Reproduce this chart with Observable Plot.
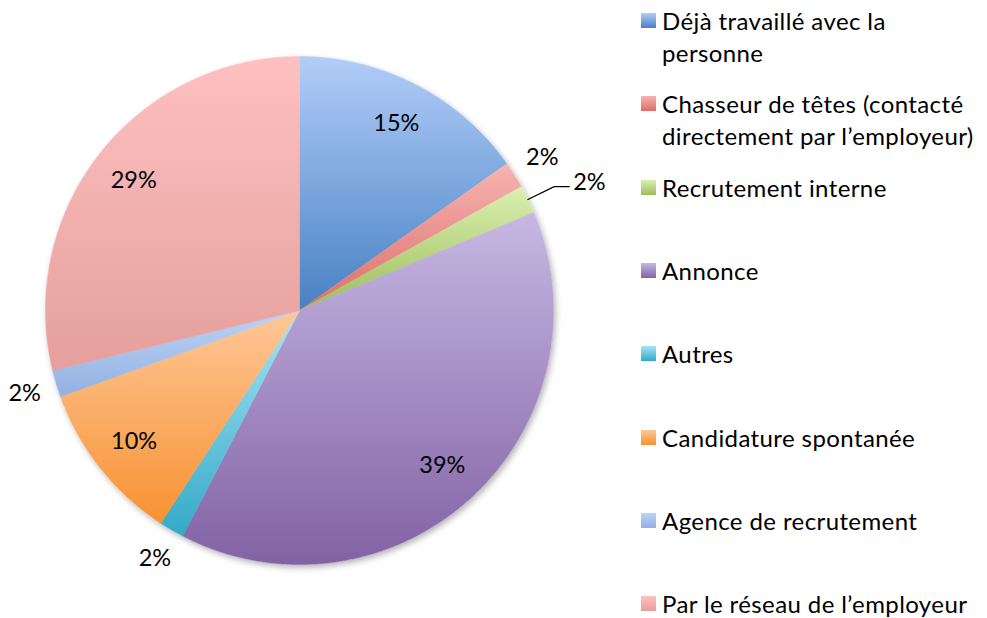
<!DOCTYPE html>
<html>
<head>
<meta charset="utf-8">
<script src="https://cdn.jsdelivr.net/npm/d3@7"></script>
<script src="https://cdn.jsdelivr.net/npm/@observablehq/plot@0.6"></script>
<style>
  html, body { margin: 0; padding: 0; background: #fff; }
  #wrap { position: relative; width: 987px; height: 618px; font-family: Lato, "Open Sans", sans-serif; }
  #chart { position: absolute; left: 0; top: 0; }
  #legend { position: absolute; left: 641px; top: 0; }
  .item { position: absolute; left: 0; width: 346px; }
  .sw { position: absolute; left: 0; top: 8px; width: 15px; height: 15px; }
  .lab { position: absolute; left: 21px; top: 0; width: 322px; font-size: 24px; letter-spacing: 0.4px; line-height: 31.5px; color: #000; }
</style>
</head>
<body>
<div id="wrap"><div id="chart"></div><div id="legend"></div></div>
<script>
// ---- data ----
const categories = [
  "Déjà travaillé avec la personne",
  "Chasseur de têtes (contacté directement par l’employeur)",
  "Recrutement interne",
  "Annonce",
  "Autres",
  "Candidature spontanée",
  "Agence de recrutement",
  "Par le réseau de l’employeur"
];
const values = [15.2, 1.7, 1.8, 38.9, 1.6, 10.3, 1.7, 28.8];
const topColors    = ["#b2cdf8", "#f7b4b1", "#daefb1", "#c6b8e3", "#a6e5f7", "#fec798", "#bcd3f7", "#fdc1c0"];
const bottomColors = ["#4781c3", "#dc6e6a", "#9dbd5a", "#8262a4", "#35a9c6", "#f79232", "#92b1e0", "#e59f9c"];

// ---- layout ----
const W = 987, H = 618, CX = 299, CY = 310, R = 254;
const innerLabelR = 0.83, outerLabelR = 1.13, smallSlice = 5;
const leaderIndex = 2;
const labelFont = 23.5;

// ---- geometry in unit-radius coordinates ----
const total = d3.sum(values);
const polar = (a, r) => ({x: r * Math.sin(a), y: r * Math.cos(a)});
let cum = 0;
const slices = values.map((v, i) => {
  const a0 = cum / total * 2 * Math.PI;
  cum += v;
  const a1 = cum / total * 2 * Math.PI;
  const n = Math.max(2, Math.ceil((a1 - a0) / (0.25 * Math.PI / 180)));
  const pts = [{x: 0, y: 0}];
  for (let k = 0; k <= n; k++) pts.push(polar(a0 + (a1 - a0) * k / n, 1));
  pts.push({x: 0, y: 0});
  return {i, v, a0, a1, mid: (a0 + a1) / 2, pts, label: Math.round(v / total * 100) + "%"};
});
const circle = d3.range(0, 721).map(k => polar(k / 720 * 2 * Math.PI, 1));

const labels = slices.filter(s => s.i !== leaderIndex).map(s => {
  const p = polar(s.mid, s.v < smallSlice ? outerLabelR : innerLabelR);
  return {x: p.x, y: p.y, text: s.label};
});
const ls = slices[leaderIndex];
const e0 = polar(ls.mid, 1.0), e1 = polar(ls.mid, 1.115);
const e2 = {x: e1.x + 15 / R, y: e1.y};
const leader = [e0, e1, e2];
const leaderLabel = [{x: e2.x + 4 / R, y: e2.y + 4 / R, text: ls.label}];

const marks = [
  Plot.line(circle, {x: "x", y: "y", fill: "white", stroke: "none", curve: "linear"}),
  ...slices.map(s => Plot.line(s.pts, {x: "x", y: "y", fill: `url(#g${s.i})`, stroke: `url(#g${s.i})`, strokeWidth: 0.6, curve: "linear"})),
  Plot.text(labels, {x: "x", y: "y", text: "text", fontSize: labelFont, fill: "black"}),
  Plot.line(leader, {x: "x", y: "y", stroke: "black", strokeWidth: 1.3}),
  Plot.text(leaderLabel, {x: "x", y: "y", text: "text", fontSize: labelFont, fill: "black", textAnchor: "start"})
];

const chart = Plot.plot({
  width: W, height: H, margin: 0,
  style: {fontFamily: "Lato, 'Open Sans', sans-serif", background: "transparent"},
  x: {domain: [-CX / R, (W - CX) / R], range: [0, W], axis: null},
  y: {domain: [-(H - CY) / R, CY / R], range: [H, 0], axis: null},
  marks
});

// gradients and shadow
const svg = d3.select(chart);
const defs = svg.insert("defs", ":first-child");
slices.forEach(s => {
  const g = defs.append("linearGradient").attr("id", `g${s.i}`).attr("x1", 0).attr("y1", 0).attr("x2", 0).attr("y2", 1);
  g.append("stop").attr("offset", "0%").attr("stop-color", topColors[s.i]);
  g.append("stop").attr("offset", "100%").attr("stop-color", bottomColors[s.i]);
});
const f = defs.append("filter").attr("id", "shadow").attr("x", "-10%").attr("y", "-10%").attr("width", "120%").attr("height", "120%");
f.append("feDropShadow").attr("dx", 2).attr("dy", 3).attr("stdDeviation", 3).attr("flood-color", "#000").attr("flood-opacity", 0.3);
svg.select('g[aria-label="line"]').attr("filter", "url(#shadow)");

document.getElementById("chart").appendChild(chart);

// legend
const legend = d3.select("#legend");
categories.forEach((c, i) => {
  const it = legend.append("div").attr("class", "item").style("top", (5 + 83.3 * i) + "px");
  it.append("div").attr("class", "sw").style("background", `linear-gradient(${topColors[i]}, ${bottomColors[i]})`);
  it.append("div").attr("class", "lab").text(c);
});
</script>
</body>
</html>
